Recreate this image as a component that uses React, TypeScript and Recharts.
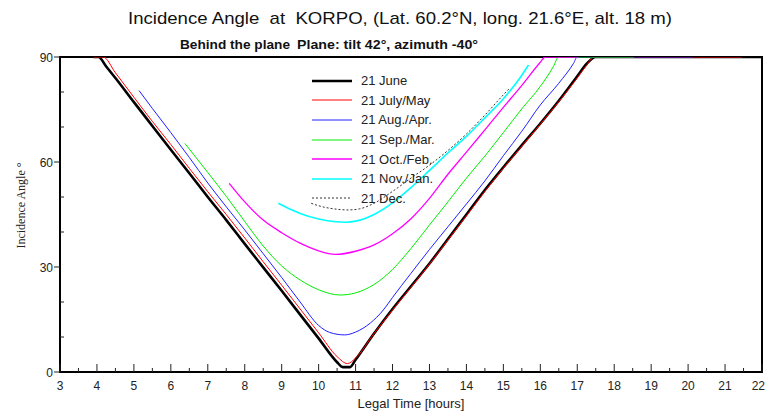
import React from "react";
import { LineChart, Line, XAxis, YAxis, Legend, ReferenceArea } from "recharts";

// [legal time (h), incidence angle (deg)]
type Pt = [number, number];

const june: Pt[] = [
  [3.9, 90], [4.04, 90], [4.25, 87.3], [4.5, 84], [5, 77.1], [5.5, 70.3], [6, 63.5],
  [6.5, 56.8], [7, 50], [7.5, 43.4], [8, 36.6], [8.5, 29.9], [9, 23.2], [9.5, 16.4],
  [10, 9.6], [10.5, 2.8], [10.65, 1.4], [10.85, 1.4], [11, 3.5], [11.5, 11], [12, 18],
  [12.5, 24.5], [13, 31], [13.5, 38], [14, 45], [14.5, 52], [15, 58.5], [15.5, 64.8],
  [16, 71], [16.5, 77.5], [17, 84.5], [17.25, 88], [17.5, 90], [22, 90],
];

const julyMay: Pt[] = [
  [3.9, 90], [4.17, 90], [4.5, 85.5], [5, 78.5], [5.5, 71.6], [6, 65], [6.5, 58.2],
  [7, 51.5], [7.5, 45], [8, 38.3], [8.5, 31.5], [9, 24.8], [9.5, 18], [10, 11.2],
  [10.5, 4.4], [10.78, 2.4], [11, 4], [11.5, 11], [12, 17.7], [12.5, 24.2], [13, 30.8],
  [13.5, 37.7], [14, 44.6], [14.5, 51.6], [15, 58.2], [15.5, 64.5], [16, 70.8],
  [16.5, 77.2], [17, 84], [17.25, 87.6], [17.45, 90], [21.46, 90],
];

const augApr: Pt[] = [
  [5.14, 80.4], [5.5, 75.3], [6, 68.4], [6.5, 61.3], [7, 54], [7.5, 47.2], [8, 40.6],
  [8.5, 33.8], [9, 27], [9.5, 20], [10, 13.3], [10.3, 11.3], [10.7, 10.6], [11, 11.4],
  [11.4, 14], [11.75, 17.7], [12, 21.3], [12.5, 28.2], [13, 35], [13.5, 41.5], [14, 48],
  [14.5, 54.6], [15, 61.8], [15.5, 68.8], [16, 76.3], [16.5, 82.5], [16.9, 88.2],
  [17, 90], [20.13, 90],
];

const sepMar: Pt[] = [
  [6.38, 65.3], [6.5, 63.7], [7, 57], [7.5, 50.2], [8, 43], [8.5, 36], [9, 30.3],
  [9.5, 26.3], [10, 23.5], [10.58, 22], [11, 22.6], [11.5, 25], [12, 29.3], [12.5, 35.3],
  [13, 42], [13.5, 48.6], [14, 55.4], [14.5, 61.7], [15, 68.4], [15.5, 75.2], [16, 81.6],
  [16.35, 87.2], [16.5, 90], [18.53, 90],
];

const octFeb: Pt[] = [
  [7.58, 53.9], [8, 48.6], [8.5, 43.4], [9, 39.8], [9.5, 36.8], [10, 34.6], [10.45, 33.6],
  [11, 34.5], [11.5, 36.3], [12, 39.5], [12.5, 43.8], [13, 49.6], [13.5, 56.5], [14, 62.8],
  [14.5, 69.2], [15, 75.6], [15.5, 81.9], [16, 88.5], [16.13, 90], [17.03, 90],
];

const novJan: Pt[] = [
  [8.91, 48.2], [9.25, 46.4], [9.5, 45.3], [10, 43.7], [10.4, 43], [10.75, 42.8],
  [11, 43.1], [11.5, 45], [12, 48.3], [12.5, 52.7], [13, 57.6], [13.5, 62.6], [14, 67.3],
  [14.5, 72.6], [15, 78.1], [15.5, 84.8], [15.68, 87.7],
];

const dec: Pt[] = [
  [9.8, 48.2], [10, 47.5], [10.5, 46.5], [10.8, 46.3], [11.1, 46.6], [11.5, 48.2],
  [12, 51.6], [12.5, 55.4], [13, 59.1], [13.5, 63.3], [14, 68], [14.5, 73.4], [15, 79.2],
  [15.18, 81.2],
];

const hourTicks = [3, 4, 5, 6, 7, 8, 9, 10, 11, 12, 13, 14, 15, 16, 17, 18, 19, 20, 21, 22];
const angleTicks = [0, 10, 20, 30, 40, 50, 60, 70, 80, 90];
const angleLabels = [0, 30, 60, 90];

const halfTicks = hourTicks.flatMap((h) => (h < 22 ? [h, h + 0.5] : [h]));

// the Dec. series hangs off the top/right axes (same domains) so those get drawn too
const series = [
  { id: "june", name: "21 June", data: june, color: "#000000", width: 2.6 },
  { id: "jul", name: "21 July/May", data: julyMay, color: "#ff0000", width: 1 },
  { id: "aug", name: "21 Aug./Apr.", data: augApr, color: "#2020ff", width: 1 },
  { id: "sep", name: "21 Sep./Mar.", data: sepMar, color: "#00ee00", width: 1 },
  { id: "oct", name: "21 Oct./Feb.", data: octFeb, color: "#ff00ff", width: 1.3 },
  { id: "nov", name: "21 Nov./Jan.", data: novJan, color: "#00ffff", width: 1.6 },
  { id: "dec", name: "21 Dec.", data: dec, color: "#333333", width: 1, dash: "2 2", alt: true },
];

const SANS = "'Liberation Sans', Arial, sans-serif";

const toPoints = (pts: Pt[]) => pts.map(([t, a]) => ({ t, a }));

const BottomTick = ({ x, y, payload }: any) => {
  const v = payload.value;
  const major = Number.isInteger(v);
  const last = v === 22;
  return (
    <g>
      <line x1={x} x2={x} y1={y} y2={y - (major ? 8 : 4)} stroke="#222" />
      {major && (
        <text
          x={last ? x + 3 : x}
          y={y + 18}
          textAnchor={last ? "end" : "middle"}
          fontFamily={SANS}
          fontSize={12}
          fill="#222"
        >
          {v}
        </text>
      )}
    </g>
  );
};

const TopTick = ({ x, y }: any) => (
  <line x1={x} x2={x} y1={y} y2={y + 5} stroke="#222" />
);

const LeftTick = ({ x, y, payload }: any) => {
  const v = payload.value;
  const major = angleLabels.includes(v);
  return (
    <g>
      {major ? (
        <line x1={x - 6} x2={x} y1={y} y2={y} stroke="#222" />
      ) : (
        <line x1={x} x2={x + 4} y1={y} y2={y} stroke="#222" />
      )}
      {major && (
        <text x={x - 7} y={y + 4.5} textAnchor="end" fontFamily={SANS} fontSize={12} fill="#222">
          {v}
        </text>
      )}
    </g>
  );
};

const RightTick = ({ x, y }: any) => (
  <line x1={x - 4} x2={x} y1={y} y2={y} stroke="#222" />
);

const renderLegend = () => (
  <div style={{ fontFamily: SANS, fontSize: 13, color: "#222" }}>
    {series.map((s) => (
      <div key={s.id} style={{ display: "flex", alignItems: "center", height: 19.6 }}>
        <svg width={47} height={6}>
          <line
            x1={7}
            x2={47}
            y1={3}
            y2={3}
            stroke={s.color}
            strokeWidth={s.width}
            strokeDasharray={s.dash}
          />
        </svg>
        <span style={{ marginLeft: 9, whiteSpace: "nowrap" }}>{s.name}</span>
      </div>
    ))}
  </div>
);

export default function App() {
  return (
    <div style={{ position: "absolute", left: 0, top: 0, width: 767, height: 412, background: "#fff" }}>
      <div style={{ position: "absolute", left: 0, top: 0 }}>
        <LineChart width={767} height={412} margin={{ top: 57, right: 5, bottom: 0, left: 0 }}>
          <XAxis
            dataKey="t"
            type="number"
            domain={[3, 22]}
            ticks={halfTicks}
            interval={0}
            height={40}
            tickSize={0}
            tickMargin={0}
            tick={<BottomTick />}
            axisLine={{ stroke: "#000", strokeWidth: 2 }}
            allowDataOverflow
            label={{
              value: "Legal Time [hours]",
              position: "insideBottom",
              offset: 4,
              fontFamily: SANS,
              fontSize: 13,
              fill: "#222",
            }}
          />
          <XAxis
            xAxisId="top"
            orientation="top"
            dataKey="t"
            type="number"
            domain={[3, 22]}
            ticks={halfTicks}
            interval={0}
            height={0}
            tickSize={0}
            tickMargin={0}
            tick={<TopTick />}
            axisLine={{ stroke: "#000", strokeWidth: 2 }}
            allowDataOverflow
          />
          <YAxis
            type="number"
            domain={[0, 90]}
            ticks={angleTicks}
            interval={0}
            width={60}
            tickSize={0}
            tickMargin={0}
            tick={<LeftTick />}
            axisLine={{ stroke: "#000", strokeWidth: 2 }}
            allowDataOverflow
            label={{
              content: ({ viewBox }: any) => {
                const cx = viewBox.x + 21;
                const cy = viewBox.y + viewBox.height / 2 - 9;
                return (
                  <text
                    x={cx}
                    y={cy}
                    transform={`rotate(-90 ${cx} ${cy})`}
                    textAnchor="middle"
                    dominantBaseline="central"
                    fontFamily="'Liberation Serif', 'Times New Roman', serif"
                    fontSize={12}
                    fill="#222"
                  >
                    Incidence Angle °
                  </text>
                );
              },
            }}
          />
          <YAxis
            yAxisId="right"
            orientation="right"
            type="number"
            domain={[0, 90]}
            ticks={angleTicks}
            interval={0}
            width={0}
            tickSize={0}
            tickMargin={0}
            tick={<RightTick />}
            axisLine={{ stroke: "#000", strokeWidth: 2 }}
            allowDataOverflow
          />
          <ReferenceArea x1={3} x2={22} y1={0} y2={90} fill="none" stroke="#000" strokeWidth={2} />
          <Legend
            layout="vertical"
            align="center"
            verticalAlign="middle"
            content={renderLegend}
            wrapperStyle={{ left: 305, top: 71, width: 170 }}
          />
          {series.map((s) => (
            <Line
              key={s.id}
              xAxisId={s.alt ? "top" : 0}
              yAxisId={s.alt ? "right" : 0}
              data={toPoints(s.data)}
              dataKey="a"
              name={s.name}
              type="monotone"
              stroke={s.color}
              strokeWidth={s.width}
              strokeDasharray={s.dash}
              dot={false}
              activeDot={false}
              isAnimationActive={false}
            />
          ))}
        </LineChart>
      </div>
      <svg
        width={767}
        height={52}
        style={{ position: "absolute", left: 0, top: 0, pointerEvents: "none" }}
      >
        <text
          x={128}
          y={24}
          textLength={544}
          lengthAdjust="spacingAndGlyphs"
          xmlSpace="preserve"
          style={{ whiteSpace: "pre" }}
          fontFamily={SANS}
          fontSize={17}
          fill="#111"
        >
          Incidence Angle  at  KORPO, (Lat. 60.2°N, long. 21.6°E, alt. 18 m)
        </text>
        <text
          x={180}
          y={49}
          textLength={110}
          lengthAdjust="spacingAndGlyphs"
          fontFamily={SANS}
          fontWeight="bold"
          fontSize={13}
          fill="#111"
        >
          Behind the plane
        </text>
        <text
          x={297}
          y={49}
          textLength={181}
          lengthAdjust="spacingAndGlyphs"
          fontFamily={SANS}
          fontWeight="bold"
          fontSize={13}
          fill="#111"
        >
          Plane: tilt 42°, azimuth -40°
        </text>
      </svg>
    </div>
  );
}
